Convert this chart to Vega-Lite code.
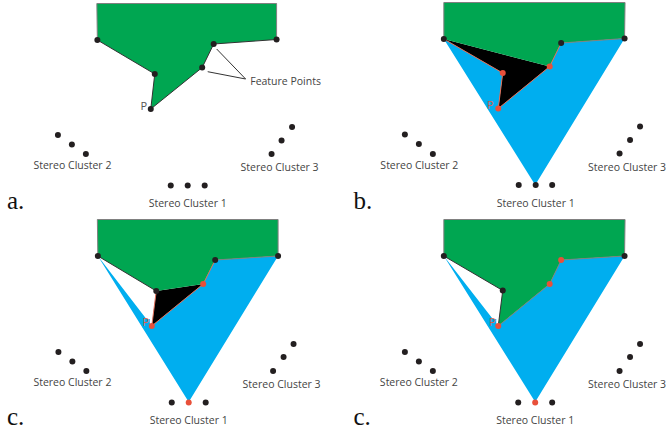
{"$schema":"https://vega.github.io/schema/vega-lite/v6.json","width":666,"height":431,"padding":0,"autosize":{"type":"fit","contains":"padding"},"background":"white","view":{"stroke":null},
"datasets":{
"polygons":[
{"shape":"a-green","region":"green","i":0,"x":97,"y":3.5},{"shape":"a-green","region":"green","i":1,"x":277,"y":3.5},{"shape":"a-green","region":"green","i":2,"x":277,"y":39.5},{"shape":"a-green","region":"green","i":3,"x":214,"y":44},{"shape":"a-green","region":"green","i":4,"x":202.5,"y":67.5},{"shape":"a-green","region":"green","i":5,"x":151,"y":109},{"shape":"a-green","region":"green","i":6,"x":155,"y":74},{"shape":"a-green","region":"green","i":7,"x":97.5,"y":40},{"shape":"a-green","region":"green","i":8,"x":97,"y":3.5},
{"shape":"b-blue","region":"blue","i":0,"x":444.5,"y":39},{"shape":"b-blue","region":"blue","i":1,"x":503.5,"y":73},{"shape":"b-blue","region":"blue","i":2,"x":499,"y":108.5},{"shape":"b-blue","region":"blue","i":3,"x":550.5,"y":66.5},{"shape":"b-blue","region":"blue","i":4,"x":562,"y":43},{"shape":"b-blue","region":"blue","i":5,"x":625.5,"y":38.5},{"shape":"b-blue","region":"blue","i":6,"x":536,"y":185},{"shape":"b-blue","region":"blue","i":7,"x":444.5,"y":39},
{"shape":"b-black","region":"black","i":0,"x":444.5,"y":39},{"shape":"b-black","region":"black","i":1,"x":550.5,"y":66.5},{"shape":"b-black","region":"black","i":2,"x":499,"y":108.5},{"shape":"b-black","region":"black","i":3,"x":503.5,"y":73},{"shape":"b-black","region":"black","i":4,"x":444.5,"y":39},
{"shape":"b-green","region":"green","i":0,"x":444.5,"y":2.5},{"shape":"b-green","region":"green","i":1,"x":626,"y":2.5},{"shape":"b-green","region":"green","i":2,"x":625.5,"y":38.5},{"shape":"b-green","region":"green","i":3,"x":562,"y":43},{"shape":"b-green","region":"green","i":4,"x":550.5,"y":66.5},{"shape":"b-green","region":"green","i":5,"x":444.5,"y":39},{"shape":"b-green","region":"green","i":6,"x":444.5,"y":2.5},
{"shape":"c-blue","region":"blue","i":0,"x":98,"y":256},{"shape":"c-blue","region":"blue","i":1,"x":152,"y":326},{"shape":"c-blue","region":"blue","i":2,"x":203.5,"y":284},{"shape":"c-blue","region":"blue","i":3,"x":215.5,"y":260},{"shape":"c-blue","region":"blue","i":4,"x":278.5,"y":256},{"shape":"c-blue","region":"blue","i":5,"x":189,"y":402},{"shape":"c-blue","region":"blue","i":6,"x":98,"y":256},
{"shape":"c-box","region":"blue","i":0,"x":143,"y":319},{"shape":"c-box","region":"blue","i":1,"x":150,"y":319},{"shape":"c-box","region":"blue","i":2,"x":150,"y":328},{"shape":"c-box","region":"blue","i":3,"x":143,"y":328},{"shape":"c-box","region":"blue","i":4,"x":143,"y":319},
{"shape":"c-black","region":"black","i":0,"x":156.5,"y":291},{"shape":"c-black","region":"black","i":1,"x":203.5,"y":284},{"shape":"c-black","region":"black","i":2,"x":152,"y":326},{"shape":"c-black","region":"black","i":3,"x":156.5,"y":291},
{"shape":"c-green","region":"green","i":0,"x":97.5,"y":219.5},{"shape":"c-green","region":"green","i":1,"x":278.5,"y":219.5},{"shape":"c-green","region":"green","i":2,"x":278.5,"y":256},{"shape":"c-green","region":"green","i":3,"x":215.5,"y":260},{"shape":"c-green","region":"green","i":4,"x":203.5,"y":284},{"shape":"c-green","region":"green","i":5,"x":156.5,"y":291},{"shape":"c-green","region":"green","i":6,"x":98,"y":256},{"shape":"c-green","region":"green","i":7,"x":97.5,"y":219.5},
{"shape":"d-blue","region":"blue","i":0,"x":444.5,"y":256},{"shape":"d-blue","region":"blue","i":1,"x":499,"y":326},{"shape":"d-blue","region":"blue","i":2,"x":550.5,"y":284},{"shape":"d-blue","region":"blue","i":3,"x":562,"y":260},{"shape":"d-blue","region":"blue","i":4,"x":625.5,"y":256},{"shape":"d-blue","region":"blue","i":5,"x":536,"y":402},{"shape":"d-blue","region":"blue","i":6,"x":444.5,"y":256},
{"shape":"d-box","region":"blue","i":0,"x":490,"y":319},{"shape":"d-box","region":"blue","i":1,"x":497,"y":319},{"shape":"d-box","region":"blue","i":2,"x":497,"y":328},{"shape":"d-box","region":"blue","i":3,"x":490,"y":328},{"shape":"d-box","region":"blue","i":4,"x":490,"y":319},
{"shape":"d-green","region":"green","i":0,"x":444.5,"y":219.5},{"shape":"d-green","region":"green","i":1,"x":626,"y":219.5},{"shape":"d-green","region":"green","i":2,"x":625.5,"y":256},{"shape":"d-green","region":"green","i":3,"x":562,"y":260},{"shape":"d-green","region":"green","i":4,"x":550.5,"y":284},{"shape":"d-green","region":"green","i":5,"x":499,"y":326},{"shape":"d-green","region":"green","i":6,"x":503.5,"y":290.5},{"shape":"d-green","region":"green","i":7,"x":444.5,"y":256},{"shape":"d-green","region":"green","i":8,"x":444.5,"y":219.5}
],
"edges":[
{"path":"a1","tone":"gray","i":0,"x":97.5,"y":40},{"path":"a1","tone":"gray","i":1,"x":97,"y":3.5},{"path":"a1","tone":"gray","i":2,"x":277,"y":3.5},{"path":"a1","tone":"gray","i":3,"x":277,"y":39.5},
{"path":"a2","tone":"dark","i":0,"x":277,"y":39.5},{"path":"a2","tone":"dark","i":1,"x":214,"y":44},{"path":"a2","tone":"dark","i":2,"x":202.5,"y":67.5},{"path":"a2","tone":"dark","i":3,"x":151,"y":109},{"path":"a2","tone":"dark","i":4,"x":155,"y":74},{"path":"a2","tone":"dark","i":5,"x":97.5,"y":40},
{"path":"a3","tone":"dark","i":0,"x":217,"y":49},{"path":"a3","tone":"dark","i":1,"x":246,"y":79},{"path":"a3","tone":"dark","i":2,"x":208,"y":71.7},
{"path":"b1","tone":"gray","i":0,"x":444.5,"y":39},{"path":"b1","tone":"gray","i":1,"x":444.5,"y":2.5},{"path":"b1","tone":"gray","i":2,"x":626,"y":2.5},{"path":"b1","tone":"gray","i":3,"x":625.5,"y":38.5},{"path":"b1","tone":"gray","i":4,"x":562,"y":43},
{"path":"b2","tone":"red","i":0,"x":562,"y":43},{"path":"b2","tone":"red","i":1,"x":550.5,"y":66.5},{"path":"b2","tone":"red","i":2,"x":499,"y":108.5},{"path":"b2","tone":"red","i":3,"x":503.5,"y":73},{"path":"b2","tone":"red","i":4,"x":444.5,"y":39},
{"path":"c1","tone":"gray","i":0,"x":98,"y":256},{"path":"c1","tone":"gray","i":1,"x":97.5,"y":219.5},{"path":"c1","tone":"gray","i":2,"x":278.5,"y":219.5},{"path":"c1","tone":"gray","i":3,"x":278.5,"y":256},{"path":"c1","tone":"gray","i":4,"x":215.5,"y":260},
{"path":"c2","tone":"dark","i":0,"x":98,"y":256},{"path":"c2","tone":"dark","i":1,"x":156.5,"y":291},
{"path":"c3","tone":"red","i":0,"x":156.5,"y":291},{"path":"c3","tone":"red","i":1,"x":152,"y":326},{"path":"c3","tone":"red","i":2,"x":203.5,"y":284},{"path":"c3","tone":"red","i":3,"x":215.5,"y":260},
{"path":"d1","tone":"gray","i":0,"x":444.5,"y":256},{"path":"d1","tone":"gray","i":1,"x":444.5,"y":219.5},{"path":"d1","tone":"gray","i":2,"x":626,"y":219.5},{"path":"d1","tone":"gray","i":3,"x":625.5,"y":256},{"path":"d1","tone":"gray","i":4,"x":562,"y":260},{"path":"d1","tone":"gray","i":5,"x":550.5,"y":284},{"path":"d1","tone":"gray","i":6,"x":499,"y":326},
{"path":"d2","tone":"dark","i":0,"x":444.5,"y":256},{"path":"d2","tone":"dark","i":1,"x":503.5,"y":290.5},{"path":"d2","tone":"dark","i":2,"x":499,"y":326}
],
"points":[
{"kind":"black","x":97.5,"y":40},{"kind":"black","x":277,"y":39.5},{"kind":"black","x":214,"y":44},{"kind":"black","x":202.5,"y":67.5},{"kind":"black","x":155,"y":74},{"kind":"black","x":151,"y":109},
{"kind":"black","x":171,"y":185.5},{"kind":"black","x":188,"y":185.5},{"kind":"black","x":205,"y":185.5},{"kind":"black","x":58,"y":135},{"kind":"black","x":72,"y":144.5},{"kind":"black","x":86,"y":154},{"kind":"black","x":272,"y":154},{"kind":"black","x":282,"y":140.5},{"kind":"black","x":292.5,"y":127},
{"kind":"black","x":444.5,"y":39},{"kind":"black","x":562,"y":43},{"kind":"black","x":625.5,"y":38.5},{"kind":"red","x":503.5,"y":73},{"kind":"red","x":550.5,"y":66.5},{"kind":"red","x":499,"y":108.5},
{"kind":"black","x":405.5,"y":134.5},{"kind":"black","x":419.5,"y":144},{"kind":"black","x":433.5,"y":154},{"kind":"black","x":620.5,"y":153.5},{"kind":"black","x":631,"y":140},{"kind":"black","x":641,"y":126.5},{"kind":"black","x":519.5,"y":185},{"kind":"black","x":536.5,"y":185},{"kind":"black","x":553,"y":185},
{"kind":"black","x":98,"y":256},{"kind":"black","x":278.5,"y":256},{"kind":"black","x":215.5,"y":260},{"kind":"black","x":156.5,"y":291},{"kind":"red","x":203.5,"y":284},{"kind":"red","x":152,"y":326},{"kind":"red","x":189,"y":402.5},
{"kind":"black","x":172,"y":402.5},{"kind":"black","x":206,"y":402.5},{"kind":"black","x":58.5,"y":352},{"kind":"black","x":72.5,"y":361.5},{"kind":"black","x":86.5,"y":371},{"kind":"black","x":273.5,"y":371},{"kind":"black","x":284,"y":357},{"kind":"black","x":294,"y":344},
{"kind":"black","x":444.5,"y":256},{"kind":"black","x":503.5,"y":290.5},{"kind":"black","x":625.5,"y":256},{"kind":"red","x":562,"y":260},{"kind":"red","x":550.5,"y":284},{"kind":"red","x":499,"y":326},{"kind":"red","x":536,"y":402.5},
{"kind":"black","x":519,"y":402.5},{"kind":"black","x":553,"y":402.5},{"kind":"black","x":405.5,"y":352},{"kind":"black","x":419.5,"y":361.5},{"kind":"black","x":433.5,"y":371},{"kind":"black","x":620.5,"y":371},{"kind":"black","x":631,"y":357},{"kind":"black","x":641,"y":344}
],
"labels":[
{"label":"Stereo Cluster 2","x":72.5,"y":165},{"label":"Stereo Cluster 1","x":188,"y":202.5},{"label":"Stereo Cluster 3","x":280,"y":167},{"label":"Feature Points","x":286,"y":81},
{"label":"Stereo Cluster 2","x":420,"y":165},{"label":"Stereo Cluster 1","x":536.5,"y":202.5},{"label":"Stereo Cluster 3","x":628,"y":167},
{"label":"Stereo Cluster 2","x":72.5,"y":382},{"label":"Stereo Cluster 1","x":189,"y":419.5},{"label":"Stereo Cluster 3","x":282,"y":384},
{"label":"Stereo Cluster 2","x":419.5,"y":382},{"label":"Stereo Cluster 1","x":536,"y":419.5},{"label":"Stereo Cluster 3","x":628,"y":384}
],
"markers":[{"label":"P","tone":"gray","x":144,"y":107},{"label":"P","tone":"red","x":491,"y":106},{"label":"P","tone":"red","x":146,"y":323},{"label":"P","tone":"red","x":493,"y":323}],
"letters":[{"label":"a.","x":7,"y":209},{"label":"b.","x":354,"y":209},{"label":"c.","x":7,"y":425},{"label":"c.","x":354,"y":425}]
},
"encoding":{"x":{"field":"x","type":"quantitative","scale":{"domain":[0,666],"nice":false,"zero":false},"axis":null},"y":{"field":"y","type":"quantitative","scale":{"domain":[431,0],"nice":false,"zero":false},"axis":null}},
"layer":[
{"data":{"name":"polygons"},"mark":{"type":"line","interpolate":"linear","strokeWidth":0},
"encoding":{"order":{"field":"i"},"detail":{"field":"shape"},"fill":{"field":"region","type":"nominal","scale":{"domain":["green","blue","black"],"range":["#00a651","#00aeef","#000000"]},"legend":null}}},
{"data":{"name":"edges"},"mark":{"type":"line","strokeWidth":1},
"encoding":{"order":{"field":"i"},"detail":{"field":"path"},"stroke":{"field":"tone","type":"nominal","scale":{"domain":["gray","dark","red"],"range":["#808080","#333333","#e0705a"]},"legend":null}}},
{"data":{"name":"points"},"mark":{"type":"circle","size":36,"opacity":1},
"encoding":{"fill":{"field":"kind","type":"nominal","scale":{"domain":["black","red"],"range":["#231f20","#e8503a"]},"legend":null}}},
{"data":{"name":"labels"},"mark":{"type":"text","font":"Open Sans","fontSize":10.5,"fill":"#444444","align":"center","baseline":"middle","dy":1},
"encoding":{"text":{"field":"label"}}},
{"data":{"name":"markers"},"mark":{"type":"text","font":"Open Sans","fontSize":11,"align":"center","baseline":"middle"},
"encoding":{"text":{"field":"label"},"fill":{"field":"tone","type":"nominal","scale":{"domain":["gray","red"],"range":["#555555","#d9604a"]},"legend":null}}},
{"data":{"name":"letters"},"mark":{"type":"text","font":"Liberation Serif","fontSize":25,"fill":"#111111","align":"left","baseline":"alphabetic"},
"encoding":{"text":{"field":"label"}}}
],
"resolve":{"scale":{"fill":"independent","stroke":"independent"}}}
